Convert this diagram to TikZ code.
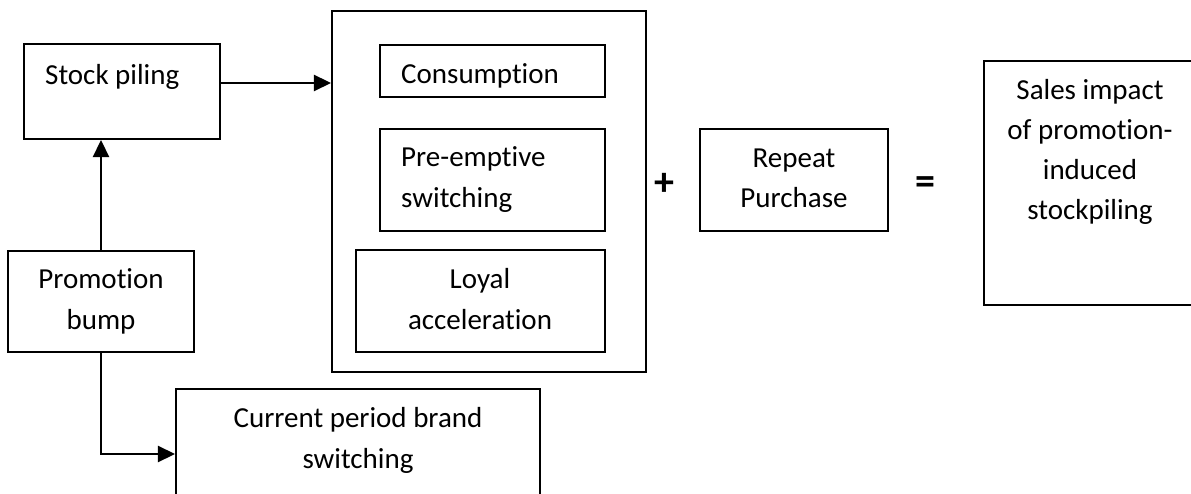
\documentclass[tikz,border=0pt]{standalone}
\usepackage{fontspec}
\setmainfont{Carlito}[Ligatures=NoCommon]
\usetikzlibrary{arrows.meta,fit}

\tikzset{
  box/.style={draw=black, line width=2.1pt, inner sep=0pt, fill=none},
  arr/.style={draw=black, line width=2.6pt, -{Triangle[length=17pt,width=16pt]}},
  lbl/.style={inner sep=0pt, font=\fontsize{29}{40}\selectfont, anchor=base},
  lbll/.style={lbl, anchor=base west},
  sign/.style={inner sep=0pt, font=\fontsize{40}{40}\selectfont\bfseries, anchor=center}
}

\begin{document}
\begin{tikzpicture}[x=1pt, y=-1pt]
  \useasboundingbox (0,0) rectangle (1191,494);
  \clip (0,0) rectangle (1191,494);
  \fill[white] (0,0) rectangle (1191,494);

  % boxes
  \node[box, fit={(24,44)(220,139)}] (stock) {};
  \node[box, fit={(332,11)(646,372)}] (group) {};
  \node[box, fit={(380,45)(605,97)}] (cons) {};
  \node[box, fit={(380,129)(605,231)}] (pre) {};
  \node[box, fit={(356,250)(605,352)}] (loyal) {};
  \node[box, fit={(700,129)(888,231)}] (repeat) {};
  \node[box, fit={(984,61)(1196,305)}] (sales) {};
  \node[box, fit={(8,251)(194,352)}] (promo) {};
  \node[box, fit={(176,389)(540,520)}] (current) {};

  % texts
  \node[lbll] (stock-t) at (45,85) {Stock piling};
  \node[lbll] (cons-t) at (401,84) {Consumption};
  \node[lbll] (pre-t1) at (401,167) {Pre-emptive};
  \node[lbll] (pre-t2) at (401,208) {switching};
  \node[lbl] (loyal-t1) at (480,288) {Loyal};
  \node[lbl] (loyal-t2) at (480,329) {acceleration};
  \node[lbl] (repeat-t1) at (794,168) {Repeat};
  \node[lbl] (repeat-t2) at (794,208) {Purchase};
  \node[lbl] (sales-t1) at (1090,100) {Sales impact};
  \node[lbl] (sales-t2) at (1090,140) {of promotion-};
  \node[lbl] (sales-t3) at (1090,180) {induced};
  \node[lbl] (sales-t4) at (1090,220) {stockpiling};
  \node[lbl] (promo-t1) at (101,289) {Promotion};
  \node[lbl] (promo-t2) at (101,330) {bump};
  \node[lbl] (current-t1) at (358,427) {Current period brand};
  \node[lbl] (current-t2) at (358,468) {switching};

  % operators
  \node[sign] (plus) at (664,184) {+};
  \node[sign] (equals) at (925,186) {=};

  % connectors
  \coordinate (sp) at ([yshift=8.5pt]stock.east);
  \draw[arr] (sp) -- (sp -| group.west);
  \draw[arr] (promo.north) -- (promo.north |- stock.south);
  \coordinate (elbow) at (promo.south |- 0,454);
  \draw[arr] (promo.south) -- (elbow) -- (elbow -| current.west);
\end{tikzpicture}
\end{document}
